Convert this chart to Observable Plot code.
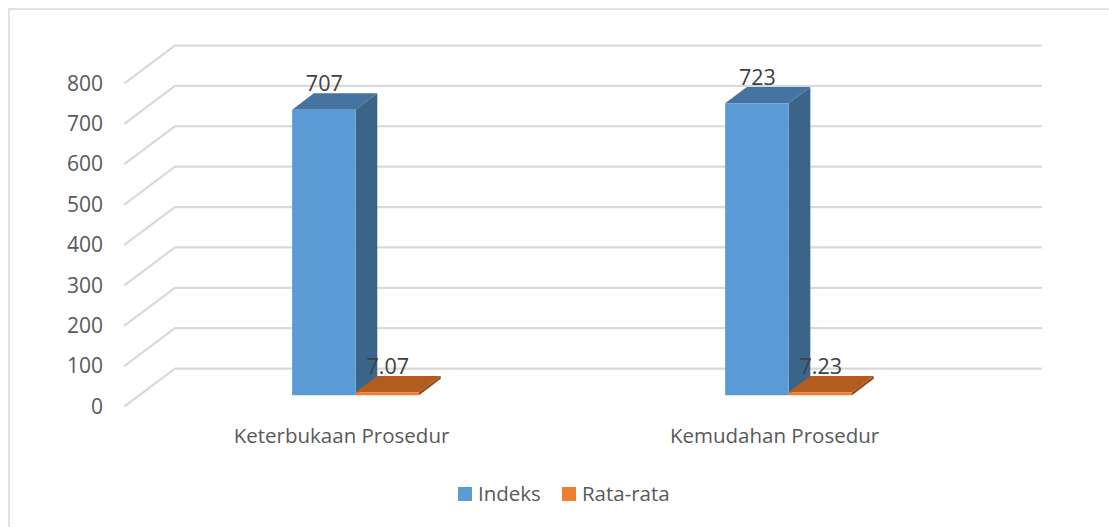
<!DOCTYPE html>
<html>
<head>
<meta charset="utf-8">
<script src="https://cdn.jsdelivr.net/npm/d3@7"></script>
<script src="https://cdn.jsdelivr.net/npm/@observablehq/plot@0.6"></script>
<style>
html,body{margin:0;padding:0;background:#fff;width:1109px;height:527px;overflow:hidden}
#chart{position:relative;width:1109px;height:527px}
#frame{position:absolute;left:8px;top:8px;width:1101px;height:519px;border-left:2px solid #e2e2e2;border-top:2px solid #e2e2e2;box-sizing:border-box;pointer-events:none}
#legend{position:absolute;left:458px;top:480px;display:flex;align-items:center;font:20.5px "Open Sans",sans-serif;color:#595959;height:27px}
#legend i{display:inline-block;width:14px;height:14px;margin-right:6px}
#legend span{margin-right:21px;position:relative;top:-1px}
</style>
</head>
<body>
<div id="chart"><div id="frame"></div><div id="legend"></div></div>
<script>
const categories = ["Keterbukaan Prosedur", "Kemudahan Prosedur"];
const seriesNames = ["Indeks", "Rata-rata"];
const indeks = [707, 723];
const rataRata = [7.07, 7.23];
const labelText = [["707", "723"], ["7.07", "7.23"]];
const axisTicks = [0, 100, 200, 300, 400, 500, 600, 700, 800];

const faceNames = ["Indeks front", "Indeks top", "Indeks side", "Rata-rata front", "Rata-rata top", "Rata-rata side"];
const faceColors = ["#5b9bd5", "#44749f", "#3a6589", "#ed7d31", "#b35c20", "#8f4a1c"];
const font = '"Open Sans", sans-serif';

// oblique 3-D projection, in scale units: u = category position, v = value, d = depth (1 = floor front, 0 = back wall)
const depthU = 0.1153, depthV = 92.7;
const proj = (u, v, d) => ({px: u - depthU * d, py: v - depthV * d});
const barFront = 0.71, barBack = 0.275, barWidth = 0.1465;

const grid = axisTicks.flatMap(t => [[0, 1], [0, 0], [2, 0]].map(([u, d]) => ({tick: t, ...proj(u, t, d)})));
const faces = [];
[indeks, rataRata].forEach((vals, s) => {
  vals.forEach((v, c) => {
    const u0 = c + 0.5 + (s - 1) * barWidth - 0.001, u1 = u0 + barWidth;
    const add = (f, pts) => pts.forEach(([u, val, d]) => faces.push({id: `${s}-${c}-${f}`, face: seriesNames[s] + " " + f, ...proj(u, val, d)}));
    add("side", [[u1, 0, barFront], [u1, 0, barBack], [u1, v, barBack], [u1, v, barFront]]);
    add("top", [[u0, v, barFront], [u1, v, barFront], [u1, v, barBack], [u0, v, barBack]]);
    add("front", [[u0, 0, barFront], [u1, 0, barFront], [u1, v, barFront], [u0, v, barFront]]);
  });
});
const valueLabels = [indeks, rataRata].flatMap((vals, s) => vals.map((v, c) => ({
  text: labelText[s][c],
  px: proj(c + 0.5 + (s - 0.5) * barWidth, v, barFront).px,
  py: proj(0, v, barBack).py
})));
const tickLabels = axisTicks.map(t => ({text: String(t), ...proj(0, t, 1)}));
const catLabels = categories.map((text, c) => ({text, ...proj(c + 0.5, 0, 1)}));

const plot = Plot.plot({
  width: 1109, height: 527,
  margin: 0,
  style: {background: "transparent", fontFamily: font},
  x: {domain: [-depthU, 2], range: [124.5, 1040.5], axis: null},
  y: {domain: [-depthV, 800], range: [405.5, 45], axis: null},
  color: {domain: faceNames, range: faceColors},
  marks: [
    Plot.line(grid, {x: "px", y: "py", z: "tick", stroke: "#d9d9d9", strokeWidth: 2.2, curve: "linear"}),
    Plot.line(faces, {x: "px", y: "py", z: "id", fill: "face", stroke: "none", curve: "linear"}),
    Plot.text(tickLabels, {x: "px", y: "py", text: "text", textAnchor: "end", dx: -22, dy: 1, fontSize: 21, fill: "#595959"}),
    Plot.text(catLabels, {x: "px", y: "py", text: "text", dy: 30, fontSize: 20.5, fill: "#595959"}),
    Plot.text(valueLabels, {x: "px", y: "py", text: "text", lineAnchor: "bottom", dy: -2, fontSize: 21.5, fill: "#404040"})
  ]
});
document.getElementById("chart").prepend(plot);
plot.style.position = "absolute"; plot.style.left = "0"; plot.style.top = "0";

const legend = document.getElementById("legend");
seriesNames.forEach((n, i) => {
  const sw = document.createElement("i");
  sw.style.background = faceColors[i * 3];
  const sp = document.createElement("span");
  sp.textContent = n;
  legend.append(sw, sp);
});
</script>
</body>
</html>
